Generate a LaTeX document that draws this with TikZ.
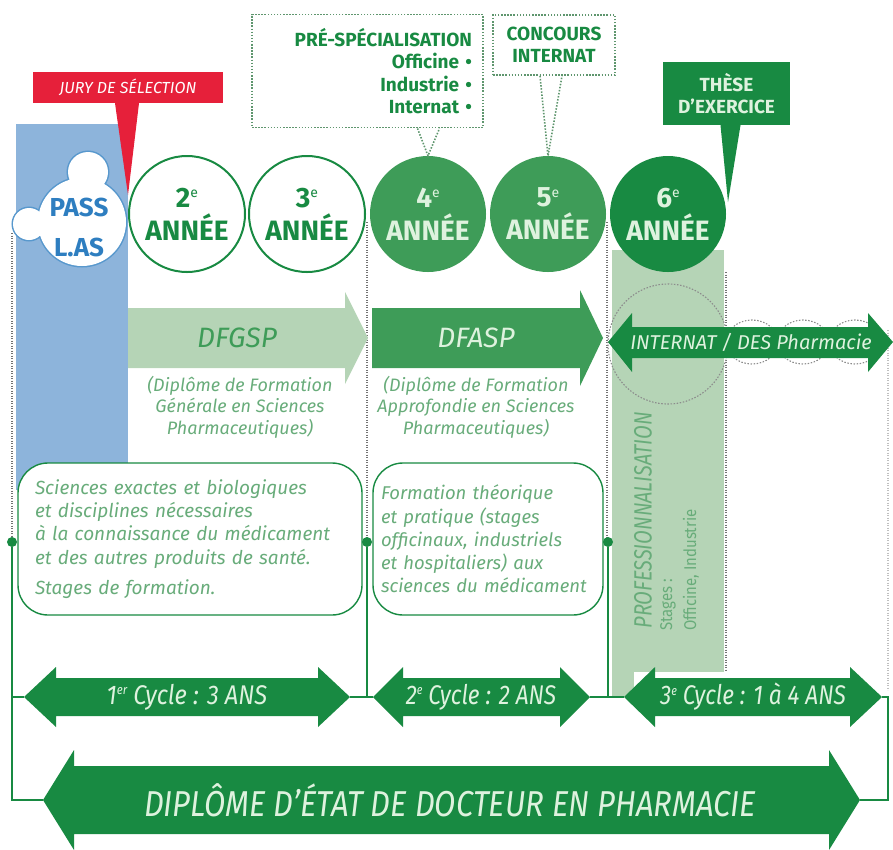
\documentclass[tikz,border=0pt]{standalone}
\usepackage{fontspec}
\setmainfont{Fira Sans}
\usetikzlibrary{positioning}

\definecolor{pgreen}{RGB}{24,138,66}
\definecolor{mgreen}{RGB}{62,156,88}
\definecolor{lgreen}{RGB}{181,212,182}
\definecolor{tgreen}{RGB}{104,172,122}
\definecolor{pale}{RGB}{222,242,222}
\definecolor{pblue}{RGB}{141,180,219}
\definecolor{dblue}{RGB}{46,126,192}
\definecolor{jred}{RGB}{230,32,58}
\definecolor{dotgreen}{RGB}{95,150,110}

\newcommand\yexp[1]{\raisebox{0.34em}{\fontsize{14}{14}\selectfont\mdseries #1}}
\newcommand\cexp[1]{\raisebox{0.36em}{\fontsize{13}{13}\selectfont #1}}

\tikzset{
  year/.style={circle, minimum size=116pt, inner sep=0pt, align=center,
    font=\fontsize{28}{33}\selectfont\bfseries},
  yearopen/.style={year, draw=pgreen, line width=2pt, fill=white, text=pgreen},
  yearfull/.style={year, fill=#1, text=pale},
  dotbox/.style={draw=dotgreen, line width=1.8pt, dash pattern=on 1.5pt off 1.6pt},
  dotline/.style={dotgreen, line width=1.6pt, dash pattern=on 1.5pt off 1.6pt},
  boxtext/.style={font=\fontsize{19}{22.5}\selectfont\bfseries, text=pgreen},
  arrowtext/.style={font=\fontsize{27}{30}\selectfont\itshape, text=pale},
  subtext/.style={font=\fontsize{18}{21.5}\selectfont\itshape, text=tgreen, align=center},
  parbox/.style={draw=pgreen, line width=1.4pt, fill=white, rounded corners=30pt,
    text=tgreen, font=\fontsize{19}{23.3}\selectfont\itshape, align=left},
  jointdot/.style={circle, fill=pgreen, minimum size=10pt, inner sep=0pt},
  link/.style={pgreen, line width=1.4pt},
  vdots/.style={black!55, line width=1.3pt, dash pattern=on 1.2pt off 1.3pt},
}

\begin{document}
\begin{tikzpicture}[x=1pt,y=-1pt]
    \useasboundingbox (0,0) rectangle (893,849);
    % backgrounds
    \fill[pblue] (16,124) rectangle (128,490);
    \fill[lgreen] (612,250) rectangle (724,672);
    \fill[lgreen] (612,672) rectangle (634,697);
    \draw[vdots] (12,233) -- (12,542);
    \draw[vdots] (367,222) -- (367,542);
    \draw[vdots] (607,222) -- (607,542);
    \draw[vdots] (726,272) -- (726,670);
    \draw[vdots, black!25] (888,330) -- (888,690);

    % internat
    \draw[dotline, black!45, line width=1.1pt] (668,344) circle (60pt);
    \foreach \cx in {752,803,855}
        \draw[dotline, black!45, line width=1.1pt] (\cx,342) ellipse (26pt and 22pt);
    \fill[pgreen] (608,342) -- (632,313) -- (632,327) -- (868,327) -- (868,313)
        -- (893,342) -- (868,372) -- (868,358) -- (632,358) -- (632,372) -- cycle;
    \node[arrowtext, font=\fontsize{20}{24}\selectfont\itshape] (internat) at (751,342) {INTERNAT / DES Pharmacie};
    \node[rotate=90, anchor=west, text=tgreen, font=\fontsize{25}{28}\selectfont\itshape] (prof) at (643,632)
        {\scalebox{0.8}[1]{PROFESSIONNALISATION}};
    \node[rotate=90, anchor=west, text=tgreen, font=\fontsize{17}{20}\selectfont] (stages) at (668,634)
        {\scalebox{0.88}[1]{Stages :}};
    \node[rotate=90, anchor=west, text=tgreen, font=\fontsize{17}{20}\selectfont] (lieux) at (691,634)
        {\scalebox{0.88}[1]{Officine, Industrie}};

    % pass / las
    \draw[dblue!80, line width=3pt] (82,222) circle (44pt) (88,172) circle (20pt) (29,224) circle (16pt);
    \fill[white] (82,222) circle (44pt) (88,172) circle (20pt) (29,224) circle (16pt);
    \node[text=dblue, align=center, font=\fontsize{26}{40}\selectfont\bfseries] (pass) at (79,227) {PASS\\L.AS};

    % annees
    \node[yearopen] (y2) at (187,214) {2\yexp{e}\\ANNÉE};
    \node[yearopen] (y3) at (307,214) {3\yexp{e}\\ANNÉE};
    \node[yearfull=mgreen] (y4) at (428,214) {4\yexp{e}\\ANNÉE};
    \node[yearfull=mgreen] (y5) at (548,214) {5\yexp{e}\\ANNÉE};
    \node[yearfull=pgreen] (y6) at (668,214) {6\yexp{e}\\ANNÉE};

    % jury and these
    \node[fill=jred, text=white, minimum width=190pt, minimum height=31pt, inner sep=0pt,
        font=\fontsize{16}{19}\selectfont\itshape] (jury) at (128,87.5) {JURY DE SÉLECTION};
    \fill[jred] ([xshift=-13pt]jury.south) -- ([xshift=11pt]jury.south) -- (128,195) -- cycle;
    \node[fill=pgreen, minimum width=127pt, minimum height=63pt, inner sep=0pt,
        align=center, boxtext, text=pale] (these) at (726.5,93.5) {THÈSE\\D’EXERCICE};
    \fill[pgreen] ([xshift=-6pt]these.south) -- ([xshift=14pt]these.south) -- (728,202) -- cycle;

    % dotted boxes
    \node[dotbox, boxtext, align=right, text width=209pt, minimum height=113pt, inner xsep=11pt] (prespe) at (367.5,71)
        {PRÉ-SPÉCIALISATION\\Officine •\\Industrie •\\Internat •};
    \draw[dotline] ([xshift=50pt]prespe.south) -- (y4.north) -- ([xshift=72pt]prespe.south);
    \node[dotbox, boxtext, align=center, minimum width=122pt, minimum height=60pt, inner sep=0pt] (concours) at (554,45)
        {CONCOURS\\INTERNAT};
    \draw[dotline] ([xshift=-14pt]concours.south) -- (y5.north) -- ([xshift=8pt]concours.south);

    % diplomes de formation
    \fill[lgreen] (128,308) -- (345,308) -- (345,292) -- (368,338) -- (345,384) -- (345,368) -- (128,368) -- cycle;
    \node[text=mgreen, font=\fontsize{28}{32}\selectfont\itshape] (dfgsp) at (237,338) {DFGSP};
    \node[subtext] (dfgspsub) at (240,407) {(Diplôme de Formation\\Générale en Sciences\\Pharmaceutiques)};
    \fill[mgreen] (372,308) -- (580,308) -- (580,290) -- (603,338) -- (580,386) -- (580,368) -- (372,368) -- cycle;
    \node[text=pale, font=\fontsize{28}{32}\selectfont\itshape] (dfasp) at (476,338) {DFASP};
    \node[subtext] (dfaspsub) at (476,407) {(Diplôme de Formation\\Approfondie en Sciences\\Pharmaceutiques)};

    % contenus
    \node[parbox, minimum width=344pt, minimum height=152pt, text width=310pt, inner xsep=17pt] (cont1) at (190,539)
        {Sciences exactes et biologiques\\et disciplines nécessaires\\à la connaissance du médicament\\et des autres produits de santé.\\[7pt]Stages de formation.};
    \node[parbox, minimum width=230pt, minimum height=152pt, text width=214pt, inner xsep=8pt,
        font=\fontsize{18.5}{23.3}\selectfont\itshape] (cont2) at (488,539)
        {Formation théorique\\et pratique (stages\\officinaux, industriels\\et hospitaliers) aux\\sciences du médicament};

    % liaisons
    \node[jointdot] (d1) at (12,542) {};
    \node[jointdot] (d2) at (367,542) {};
    \node[jointdot] (d3) at (608,542) {};
    \coordinate (c1w) at (24,697);
    \coordinate (c1e) at (350,697);
    \coordinate (c2w) at (373,697);
    \coordinate (c2e) at (590,697);
    \coordinate (c3w) at (624,697);
    \coordinate (c3e) at (882,697);
    \coordinate (dipw) at (43,800);
    \coordinate (dipe) at (860,800);
    \coordinate (rim) at (888,800);
    \draw[link] (d1) |- (dipw);
    \draw[link] (d1 |- c1w) -- (c1w);
    \draw[link] (d2) -- (d2 |- c1e);
    \draw[link] (c1e) -- (c2w);
    \draw[link] (d3) -- (d3 |- c2e);
    \draw[link] (c2e) -- (c3w);
    \draw[link] (c3e) -| (rim) -- (dipe);

    % cycles
    \fill[pgreen] (24,697) -- (56,667) -- (56,678) -- (318,678) -- (318,667) -- (350,697)
        -- (318,727) -- (318,716) -- (56,716) -- (56,727) -- cycle;
    \fill[pgreen] (373,697) -- (403,667) -- (403,678) -- (560,678) -- (560,667) -- (590,697)
        -- (560,727) -- (560,716) -- (403,716) -- (403,727) -- cycle;
    \fill[pgreen] (624,697) -- (655,667) -- (655,678) -- (850,678) -- (850,667) -- (882,697)
        -- (850,727) -- (850,716) -- (655,716) -- (655,727) -- cycle;
    \node[arrowtext] (cyc1) at (187,697) {\scalebox{0.88}[1]{1\cexp{er} Cycle : 3 ANS}};
    \node[arrowtext] (cyc2) at (481,697) {\scalebox{0.84}[1]{2\cexp{e} Cycle : 2 ANS}};
    \node[arrowtext] (cyc3) at (753,697) {\scalebox{0.84}[1]{3\cexp{e} Cycle : 1 à 4 ANS}};

    % diplome d'etat
    \fill[pgreen] (43,800) -- (74,750) -- (74,766) -- (829,766) -- (829,750) -- (860,800)
        -- (829,850) -- (829,834) -- (74,834) -- (74,850) -- cycle;
    \node[arrowtext, font=\fontsize{36}{40}\selectfont\itshape] (dip) at (450,800)
        {\scalebox{0.86}[1]{DIPLÔME D'ÉTAT DE DOCTEUR EN PHARMACIE}};
\end{tikzpicture}
\end{document}
